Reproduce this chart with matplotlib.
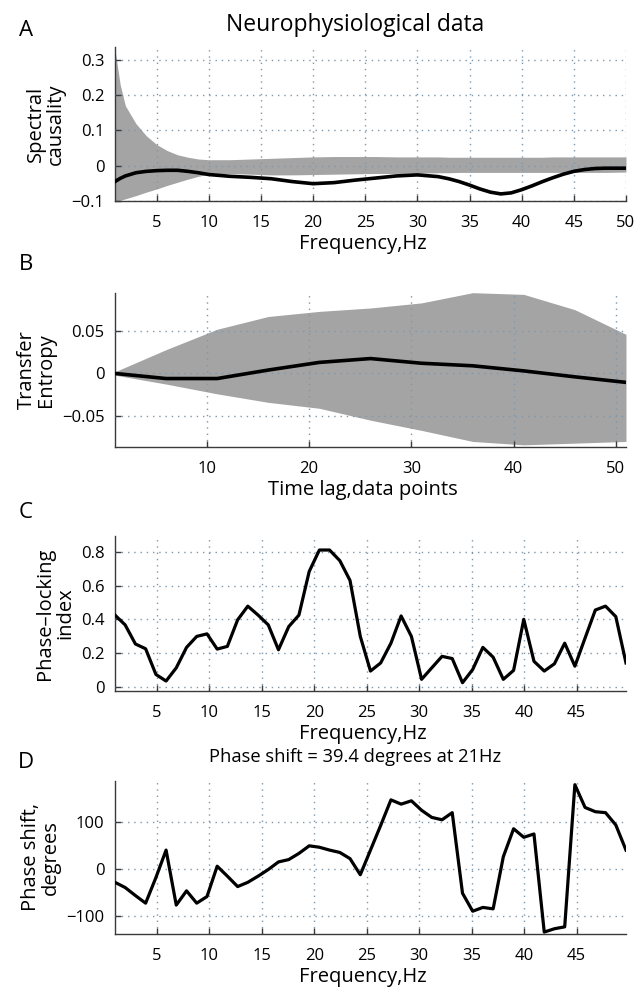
import numpy as np
import matplotlib.pyplot as plt
from matplotlib.ticker import FuncFormatter

plt.rcParams['font.family'] = ['Open Sans', 'DejaVu Sans']

# -- A: spectral causality (mean curve + surrogate band) --
freq_a = [1, 1.5, 2, 3, 4, 5, 6, 7, 8, 9, 10, 12, 14, 16, 18, 20, 22, 24, 26,
          28, 30, 32, 33, 34, 35, 36, 37, 38, 39, 40, 41, 42, 43, 44, 45, 46,
          47, 48, 50]
causality = [-0.045, -0.036, -0.029, -0.020, -0.016, -0.014, -0.013, -0.013,
             -0.016, -0.020, -0.025, -0.030, -0.033, -0.037, -0.045, -0.051,
             -0.048, -0.041, -0.035, -0.029, -0.026, -0.031, -0.037, -0.045,
             -0.055, -0.066, -0.075, -0.080, -0.077, -0.068, -0.057, -0.045,
             -0.034, -0.024, -0.016, -0.011, -0.008, -0.007, -0.007]
causality_hi = [0.33, 0.23, 0.17, 0.12, 0.085, 0.06, 0.043, 0.031, 0.024,
                0.019, 0.017, 0.017, 0.019, 0.021, 0.023, 0.025, 0.026, 0.026,
                0.026, 0.025, 0.025, 0.025, 0.024, 0.024, 0.024, 0.024, 0.024,
                0.024, 0.024, 0.024, 0.024, 0.024, 0.025, 0.025, 0.025, 0.025,
                0.025, 0.025, 0.025]
causality_lo = [-0.102, -0.098, -0.094, -0.085, -0.075, -0.066, -0.056, -0.047,
                -0.038, -0.030, -0.024, -0.022, -0.024, -0.026, -0.026, -0.025,
                -0.024, -0.023, -0.022, -0.022, -0.021, -0.020, -0.020, -0.019,
                -0.019, -0.019, -0.019, -0.019, -0.019, -0.019, -0.019, -0.019,
                -0.019, -0.019, -0.019, -0.019, -0.019, -0.019, -0.018]

# -- B: transfer entropy vs lag --
lag = [1, 6, 11, 16, 21, 26, 31, 36, 41, 46, 51]
te = [0.0, -0.006, -0.006, 0.004, 0.013, 0.0175, 0.012, 0.009, 0.003, -0.004,
      -0.0105]
te_hi = [0.002, 0.028, 0.052, 0.067, 0.073, 0.077, 0.083, 0.095, 0.093, 0.075,
         0.046]
te_lo = [-0.002, -0.0125, -0.024, -0.034, -0.041, -0.055, -0.067, -0.080,
         -0.084, -0.082, -0.080]

# -- C/D: phase locking and phase shift --
freq_cd = [1.00, 1.97, 2.95, 3.92, 4.90, 5.87, 6.84, 7.82, 8.79, 9.77, 10.74,
           11.71, 12.69, 13.66, 14.64, 15.61, 16.58, 17.56, 18.53, 19.51,
           20.48, 21.45, 22.43, 23.40, 24.38, 25.35, 26.32, 27.30, 28.27,
           29.25, 30.22, 31.19, 32.17, 33.14, 34.12, 35.09, 36.06, 37.04,
           38.01, 38.99, 39.96, 40.93, 41.91, 42.88, 43.86, 44.83, 45.80,
           46.78, 47.75, 48.73, 49.70]
pli = [0.425, 0.367, 0.254, 0.226, 0.074, 0.035, 0.113, 0.234, 0.299, 0.314,
       0.224, 0.240, 0.397, 0.478, 0.425, 0.367, 0.220, 0.357, 0.425, 0.683,
       0.810, 0.810, 0.747, 0.630, 0.299, 0.094, 0.142, 0.259, 0.420, 0.299,
       0.045, 0.113, 0.181, 0.168, 0.025, 0.103, 0.234, 0.176, 0.045, 0.098,
       0.400, 0.152, 0.094, 0.137, 0.259, 0.123, 0.289, 0.455, 0.478, 0.416,
       0.142]
phase = [-28, -39, -56, -72, -18, 40, -76, -46, -72, -58, 6, -15, -37, -28,
         -15, -1, 15, 20, 33, 49, 46, 40, 35, 22, -12, 40, 92, 146, 137, 144,
         124, 109, 104, 119, -51, -89, -81, -84, 26, 85, 67, 74, -133, -126,
         -122, 178, 130, 121, 119, 93, 40]

GRID = '#7d98ad'
BAND = '#a4a4a4'
TICK_FS = 12
LABEL_FS = 14.5


def style_axes(ax, xticks, yticks, xlim, ylim):
    """MATLAB-ish look: box off, inward ticks, dotted grid."""
    ax.set_xlim(*xlim)
    ax.set_ylim(*ylim)
    ax.set_xticks(xticks)
    ax.set_yticks(yticks)
    ax.yaxis.set_major_formatter(
        FuncFormatter(lambda v, _: f'{v:g}'.replace('-', '\u2212')))
    ax.grid(True, color=GRID, linestyle=(0, (1, 3.5)), linewidth=1.0)
    ax.set_axisbelow(False)
    for side in ('top', 'right'):
        ax.spines[side].set_visible(False)
    for side in ('left', 'bottom'):
        ax.spines[side].set_color('#3a3a3a')
        ax.spines[side].set_linewidth(1.0)
    ax.tick_params(direction='in', length=4, width=1, color='#3a3a3a',
                   labelsize=TICK_FS)
    ax.tick_params(axis='x', pad=10)
    ax.tick_params(axis='y', pad=7.5)


def labels(ax, ylab, xlab):
    ax.set_ylabel(ylab, fontsize=LABEL_FS, labelpad=4, linespacing=1.0)
    ax.set_xlabel(xlab, fontsize=LABEL_FS, labelpad=2)
    ax.xaxis.label.set_x(0.485)


fig = plt.figure(figsize=(6.37, 9.88), dpi=100)
rect_x, rect_w = 0.1805, 0.8022

# A
axA = fig.add_axes([rect_x, 0.7966, rect_w, 0.1559])
axA.fill_between(freq_a, causality_lo, causality_hi, color=BAND, lw=0,
                 zorder=1)
axA.plot(freq_a, causality, color='k', lw=2.6, zorder=3)
style_axes(axA, range(5, 51, 5), [-0.1, 0, 0.1, 0.2, 0.3], (1, 50),
           (-0.1, 0.337))
labels(axA, 'Spectral\ncausality', 'Frequency,Hz')

# B
axB = fig.add_axes([rect_x, 0.5476, rect_w, 0.1559])
axB.fill_between(lag, te_lo, te_hi, color=BAND, lw=0, zorder=1)
axB.plot(lag, te, color='k', lw=2.6, zorder=3)
style_axes(axB, range(10, 51, 10), [-0.05, 0, 0.05], (1, 51),
           (-0.0865, 0.0947))
labels(axB, 'Transfer\nEntropy', 'Time lag,data points')

# C
axC = fig.add_axes([rect_x, 0.3006, rect_w, 0.1569])
axC.plot(freq_cd, pli, color='k', lw=2.3, zorder=3)
style_axes(axC, range(5, 46, 5), [0, 0.2, 0.4, 0.6, 0.8], (1, 49.7),
           (-0.024, 0.893))
labels(axC, 'Phase\u2013locking\nindex', 'Frequency,Hz')

# D
axD = fig.add_axes([rect_x, 0.0547, rect_w, 0.1549])
axD.plot(freq_cd, phase, color='k', lw=2.3, zorder=3)
style_axes(axD, range(5, 46, 5), [-100, 0, 100], (1, 49.7), (-137, 186))
labels(axD, 'Phase shift,\ndegrees', 'Frequency,Hz')

# titles and panel letters
fig.text(355 / 637, 1 - 25 / 988, 'Neurophysiological data', ha='center',
         va='center', fontsize=16.5)
fig.text(355 / 637, 1 - 757 / 988, 'Phase shift = 39.4 degrees at 21Hz',
         ha='center', va='center', fontsize=13.2)
for letter, ypix in zip('ABCD', [31, 264, 512, 762]):
    fig.text(26 / 637, 1 - ypix / 988, letter, ha='center', va='center',
             fontsize=16)

plt.savefig('out.png', dpi=100)
